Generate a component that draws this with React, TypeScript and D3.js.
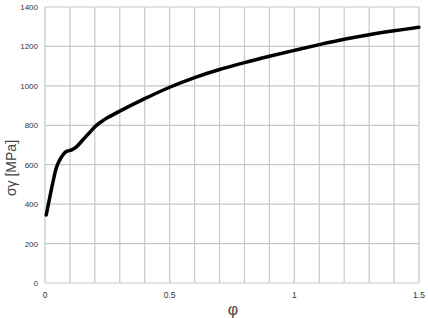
import React from "react";
import * as d3 from "d3";

const phi = [0.005, 0.017, 0.031, 0.047, 0.063, 0.084, 0.107, 0.127, 0.154, 0.18, 0.205, 0.23, 0.25, 0.3, 0.4, 0.5, 0.6, 0.7, 0.8, 0.9, 1.0, 1.1, 1.2, 1.3, 1.4, 1.5];
const sigma = [345, 421, 507, 590, 633, 666, 675, 692, 729, 765, 798, 822, 838, 872, 935, 993, 1042, 1083, 1118, 1150, 1180, 1209, 1236, 1259, 1279, 1297];
const yTicks = [0, 200, 400, 600, 800, 1000, 1200, 1400];
const xGrid = d3.range(0, 16).map((i) => i / 10);
const xTickLabels = [0, 0.5, 1, 1.5];

export default function App() {
  const W = 428, H = 318;
  const left = 45, right = 419, top = 7, bottom = 283;
  const x = d3.scaleLinear().domain([0, 1.5]).range([left, right]);
  const y = d3.scaleLinear().domain([0, 1400]).range([bottom, top]);
  const pts: [number, number][] = phi.map((p, i) => [p, sigma[i]]);
  const line = d3.line<[number, number]>().x((d) => x(d[0])).y((d) => y(d[1])).curve(d3.curveCatmullRom.alpha(0.5));
  const grid = "#c4c9c9";
  return (
    <svg width={W} height={H} style={{ position: "absolute", left: 0, top: 0 }} fontFamily="Liberation Sans, Arial, sans-serif">
      <rect width={W} height={H} fill="#fff" />
      {yTicks.map((t) => (
        <line key={"h" + t} x1={left} x2={right} y1={y(t)} y2={y(t)} stroke={grid} strokeWidth={1.2} />
      ))}
      {xGrid.map((t) => (
        <line key={"v" + t} x1={x(t)} x2={x(t)} y1={top} y2={bottom} stroke={grid} strokeWidth={1.2} />
      ))}
      {yTicks.map((t) => (
        <text key={"yl" + t} x={38} y={y(t) + 3} fontSize={8} fill="#333" textAnchor="end">{t}</text>
      ))}
      {xTickLabels.map((t) => (
        <text key={"xl" + t} x={x(t)} y={298} fontSize={8.5} fill="#333" textAnchor="middle">{t}</text>
      ))}
      <path d={line(pts) || ""} fill="none" stroke="#000" strokeWidth={3.5} strokeLinecap="round" strokeLinejoin="round" />
      <text x={233} y={315} fontSize={16} fill="#444" textAnchor="middle">φ</text>
      <text transform={`translate(16,168) rotate(-90)`} fontSize={14} fill="#444" textAnchor="middle">σγ [MPa]</text>
    </svg>
  );
}
